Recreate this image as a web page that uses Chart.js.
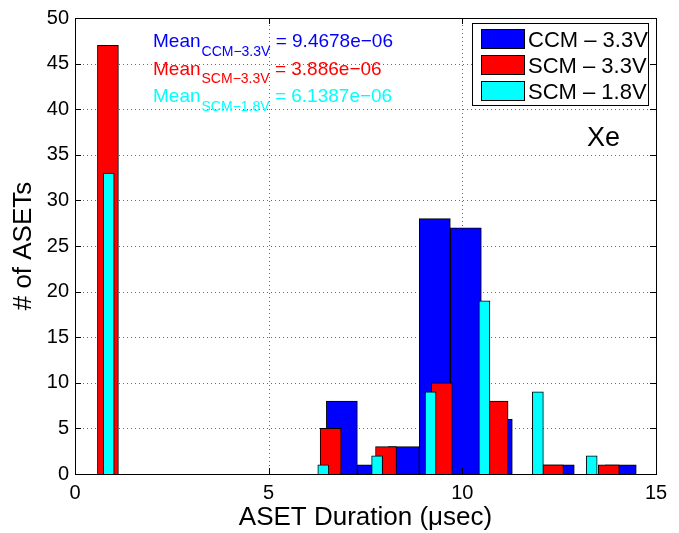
<!DOCTYPE html>
<html>
<head>
<meta charset="utf-8">
<script src="https://cdn.jsdelivr.net/npm/chart.js@4.4.1/dist/chart.umd.min.js"></script>
<style>
  body { margin: 0; background: #fff; }
  #wrap { width: 679px; height: 533px; }
</style>
</head>
<body>
<div id="wrap"><canvas id="histo" width="679" height="533"></canvas></div>
<script>
// bin centres (usec) and counts
const ccm33Centers = [6.89, 7.69, 8.49, 9.29, 10.09, 10.89, 11.69, 12.49, 13.29, 14.09];
const ccm33Counts  = [8, 1, 3, 28, 27, 6, 0, 1, 0, 1];

const scm33Centers = [0.85, 2.29, 3.73, 5.16, 6.60, 8.03, 9.47, 10.91, 12.34, 13.78];
const scm33Counts  = [47, 0, 0, 0, 5, 3, 10, 8, 1, 1];

const scm18Centers = [0.87, 2.26, 3.64, 5.03, 6.41, 7.80, 9.18, 10.57, 11.95, 13.34];
const scm18Counts  = [33, 0, 0, 0, 1, 2, 9, 19, 9, 2];

const seriesLabels = ["CCM \u2013 3.3V", "SCM \u2013 3.3V", "SCM \u2013 1.8V"];
const meanNames  = ["CCM\u22123.3V", "SCM\u22123.3V", "SCM\u22121.8V"];
const meanValues = ["9.4678e\u221206", "3.886e\u221206", "6.1387e\u221206"];

const xTicks = [0, 5, 10, 15];
const yTicks = [0, 5, 10, 15, 20, 25, 30, 35, 40, 45, 50];

const FONT = "'Liberation Sans', Arial, Helvetica, sans-serif";

function toPoints(xs, ys) {
  return xs.map((x, i) => ({ x: x, y: ys[i] }));
}

// dotted matlab grid, drawn under the bars
const dottedGrid = {
  id: "dottedGrid",
  beforeDatasetsDraw(chart) {
    const ctx = chart.ctx;
    const a = chart.chartArea;
    const xs = chart.scales.x, ys = chart.scales.y;
    ctx.save();
    ctx.strokeStyle = "#666";
    ctx.lineWidth = 1;
    ctx.setLineDash([1, 3]);
    ctx.beginPath();
    xTicks.forEach(v => {
      const px = Math.round(xs.getPixelForValue(v)) + 0.5;
      ctx.moveTo(px, a.bottom); ctx.lineTo(px, a.top);
    });
    yTicks.forEach(v => {
      const py = Math.round(ys.getPixelForValue(v)) + 0.5;
      ctx.moveTo(a.left, py); ctx.lineTo(a.right, py);
    });
    ctx.stroke();
    ctx.restore();
  }
};

// legend, mean annotations, box and inward ticks
const extras = {
  id: "extras",
  afterDatasetsDraw(chart) {
    const ctx = chart.ctx;
    const a = chart.chartArea;
    const xs = chart.scales.x, ys = chart.scales.y;
    ctx.save();

    // axes box
    ctx.strokeStyle = "#000";
    ctx.lineWidth = 1;
    ctx.strokeRect(Math.round(a.left) + 0.5, Math.round(a.top) + 0.5,
      Math.round(a.right - a.left), Math.round(a.bottom - a.top));

    // inward ticks
    ctx.beginPath();
    xTicks.forEach(v => {
      const px = Math.round(xs.getPixelForValue(v)) + 0.5;
      ctx.moveTo(px, a.bottom); ctx.lineTo(px, a.bottom - 6);
      ctx.moveTo(px, a.top); ctx.lineTo(px, a.top + 6);
    });
    yTicks.forEach(v => {
      const py = Math.round(ys.getPixelForValue(v)) + 0.5;
      ctx.moveTo(a.left, py); ctx.lineTo(a.left + 6, py);
      ctx.moveTo(a.right, py); ctx.lineTo(a.right - 6, py);
    });
    ctx.stroke();

    // mean texts
    const ds = chart.data.datasets;
    ctx.textBaseline = "alphabetic";
    ctx.textAlign = "left";
    meanNames.forEach((name, i) => {
      const base = 47 + i * 27.5;
      let x = 153;
      ctx.fillStyle = ds[i].backgroundColor;
      ctx.font = "19px " + FONT;
      ctx.fillText("Mean", x, base);
      x += ctx.measureText("Mean").width + 1;
      ctx.font = "14px " + FONT;
      ctx.fillText(name, x, base + 8.5);
      x += ctx.measureText(name).width;
      ctx.font = "19px " + FONT;
      ctx.fillText(" = " + meanValues[i], x, base);
    });

    // legend box
    const lx = 472, ly = 23, lw = 176, lh = 82;
    ctx.fillStyle = "#fff";
    ctx.fillRect(lx, ly, lw, lh);
    ctx.strokeStyle = "#000";
    ctx.strokeRect(lx + 0.5, ly + 0.5, lw, lh);
    ds.forEach((d, i) => {
      const top = 29 + i * 26;
      ctx.fillStyle = d.backgroundColor;
      ctx.fillRect(481, top, 43, 19);
      ctx.strokeStyle = "#000";
      ctx.strokeRect(481.5, top + 0.5, 43, 19);
      ctx.fillStyle = "#000";
      ctx.font = "22px " + FONT;
      ctx.fillText(d.label, 528, top + 18);
    });

    // gas label
    ctx.fillStyle = "#000";
    ctx.font = "27px " + FONT;
    ctx.fillText("Xe", 587, 146);

    ctx.restore();
  }
};

const ctx = document.getElementById("histo").getContext("2d");
const histo = new Chart(ctx, {
  type: "bar",
  data: {
    datasets: [
      {
        label: seriesLabels[0],
        data: toPoints(ccm33Centers, ccm33Counts),
        backgroundColor: "#0000ff",
        borderColor: "#000",
        borderWidth: 1,
        barThickness: 31,
        grouped: false,
        order: 3
      },
      {
        label: seriesLabels[1],
        data: toPoints(scm33Centers, scm33Counts),
        backgroundColor: "#ff0000",
        borderColor: "#000",
        borderWidth: 1,
        barThickness: 21,
        grouped: false,
        order: 2
      },
      {
        label: seriesLabels[2],
        data: toPoints(scm18Centers, scm18Counts),
        backgroundColor: "#00ffff",
        borderColor: "#000",
        borderWidth: 1,
        barThickness: 11,
        grouped: false,
        order: 1
      }
    ]
  },
  options: {
    responsive: false,
    animation: false,
    layout: { padding: { left: 0, top: 17, right: 23, bottom: 0 } },
    plugins: {
      legend: { display: false },
      tooltip: { enabled: false }
    },
    scales: {
      x: {
        type: "linear",
        min: 0,
        max: 15,
        offset: false,
        afterFit: s => { s.height = 59; },
        afterBuildTicks: s => { s.ticks = xTicks.map(v => ({ value: v })); },
        grid: { display: false, offset: false, drawTicks: false },
        border: { display: false },
        ticks: { padding: 7, color: "#000", font: { family: FONT, size: 20 } },
        title: {
          display: true,
          text: "ASET Duration (\u03bcsec)",
          color: "#000",
          padding: { top: 0, bottom: 0 },
          font: { family: FONT, size: 26 }
        }
      },
      y: {
        min: 0,
        max: 50,
        afterFit: s => { s.width = 75; },
        afterBuildTicks: s => { s.ticks = yTicks.map(v => ({ value: v })); },
        grid: { display: false, drawTicks: false },
        border: { display: false },
        ticks: { padding: 6, color: "#000", font: { family: FONT, size: 20 } },
        title: {
          display: true,
          text: "# of ASETs",
          color: "#000",
          padding: { top: 8, bottom: 0 },
          font: { family: FONT, size: 26 }
        }
      }
    }
  },
  plugins: [dottedGrid, extras]
});
</script>
</body>
</html>
